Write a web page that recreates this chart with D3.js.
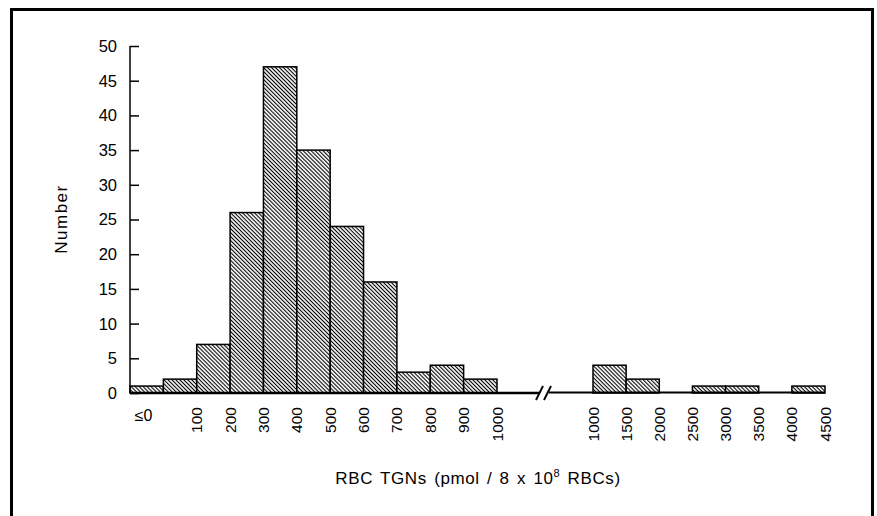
<!DOCTYPE html>
<html><head><meta charset="utf-8">
<script src="https://cdn.jsdelivr.net/npm/d3@7/dist/d3.min.js"></script>
<style>body{margin:0;background:#fff}svg{display:block}text{font-family:"Liberation Sans",Arial,Helvetica,sans-serif;fill:#000}</style>
</head><body><svg id="c" width="877" height="516"></svg>
<script>
// Left segment bins (lower edges), counts, edge labels
const leftBinStarts = [-100, 0, 100, 200, 300, 400, 500, 600, 700, 800, 900];
const leftCounts    = [1, 2, 7, 26, 47, 35, 24, 16, 3, 4, 2];
const leftTickVals  = [100, 200, 300, 400, 500, 600, 700, 800, 900, 1000];
const leftTickLabels= ["100","200","300","400","500","600","700","800","900","1000"];
// Right segment (after axis break)
const rightBinStarts = [1000, 1500, 2000, 2500, 3000, 3500, 4000];
const rightCounts    = [4, 2, 0, 1, 1, 0, 1];
const rightTickVals  = [1000, 1500, 2000, 2500, 3000, 3500, 4000, 4500];
const rightTickLabels= ["1000","1500","2000","2500","3000","3500","4000","4500"];
const yTicks = [0,5,10,15,20,25,30,35,40,45,50];

const svg = d3.select("#c");
const y = d3.scaleLinear().domain([0,50]).range([393,46]);
const xL = d3.scaleLinear().domain([-100,1000]).range([130,497]);
const xR = d3.scaleLinear().domain([1000,4500]).range([593,825]);

// frame
svg.append("rect").attr("x",11.5).attr("y",9.5).attr("width",861).attr("height",520)
  .attr("fill","none").attr("stroke","#000").attr("stroke-width",3);

// hatch pattern
const defs = svg.append("defs");
const pat = defs.append("pattern").attr("id","hatch").attr("patternUnits","userSpaceOnUse")
  .attr("width",2.8).attr("height",2.8).attr("patternTransform","rotate(45)");
pat.append("rect").attr("width",2.8).attr("height",2.8).attr("fill","#fff");
pat.append("line").attr("x1",0).attr("y1",1.4).attr("x2",2.8).attr("y2",1.4)
  .attr("stroke","#000").attr("stroke-width",1.1);

// bars
function drawBars(starts, counts, xs, w){
  svg.append("g").selectAll("rect").data(starts.map((s,i)=>({s, c:counts[i]})).filter(d=>d.c>0))
    .join("rect")
    .attr("x", d=>xs(d.s)).attr("width", d=>xs(d.s+w)-xs(d.s))
    .attr("y", d=>y(d.c)).attr("height", d=>y(0)-y(d.c))
    .attr("fill","url(#hatch)").attr("stroke","#000").attr("stroke-width",1.5);
}
drawBars(leftBinStarts, leftCounts, xL, 100);
drawBars(rightBinStarts, rightCounts, xR, 500);

// y axis
const yAxis = d3.axisRight(y).tickValues(yTicks).tickSize(9).tickFormat("");
const gy = svg.append("g").attr("transform","translate(130,0)").call(yAxis);
gy.select(".domain").attr("stroke-width",1.5).attr("d","M0,46V393");
gy.selectAll(".tick line").attr("stroke-width",1.5);
svg.append("g").selectAll("text").data(yTicks).join("text")
  .attr("x",117).attr("y",d=>y(d)).attr("dy","0.36em").attr("text-anchor","end")
  .attr("font-size",16.5).text(d=>d);

// baseline with break
svg.append("line").attr("x1",130).attr("x2",539).attr("y1",y(0)).attr("y2",y(0))
  .attr("stroke","#000").attr("stroke-width",2.5);
svg.append("line").attr("x1",549).attr("x2",825).attr("y1",y(0)-0.5).attr("y2",y(0)-0.5)
  .attr("stroke","#000").attr("stroke-width",2);
[[536,400,543,386],[544,400,551,386]].forEach(p=>{
  svg.append("line").attr("x1",p[0]).attr("y1",p[1]).attr("x2",p[2]).attr("y2",p[3])
    .attr("stroke","#000").attr("stroke-width",2);
});

// x tick labels (rotated)
function rotLabels(vals, labels, xs){
  svg.append("g").selectAll("text").data(vals).join("text")
    .attr("transform", d=>`translate(${xs(d)+5.5},407) rotate(-90)`)
    .attr("text-anchor","end").attr("font-size",15.5)
    .text((d,i)=>labels[i]);
}
rotLabels(leftTickVals, leftTickLabels, xL);
rotLabels(rightTickVals, rightTickLabels, xR);
svg.append("text").attr("x",xL(-50)-3).attr("y",421).attr("text-anchor","middle")
  .attr("font-size",16).text("≤0");

// axis titles
svg.append("text").attr("transform","translate(67,219) rotate(-90)")
  .attr("text-anchor","middle").attr("font-size",17).attr("letter-spacing",1.5).text("Number");
const t = svg.append("text").attr("x",478).attr("y",484).attr("text-anchor","middle")
  .attr("font-size",17).attr("letter-spacing",0.6).attr("word-spacing",2);
t.append("tspan").text("RBC TGNs (pmol / 8 x 10");
t.append("tspan").attr("dy",-7).attr("font-size",11).text("8");
t.append("tspan").attr("dy",7).text(" RBCs)");
</script></body></html>
